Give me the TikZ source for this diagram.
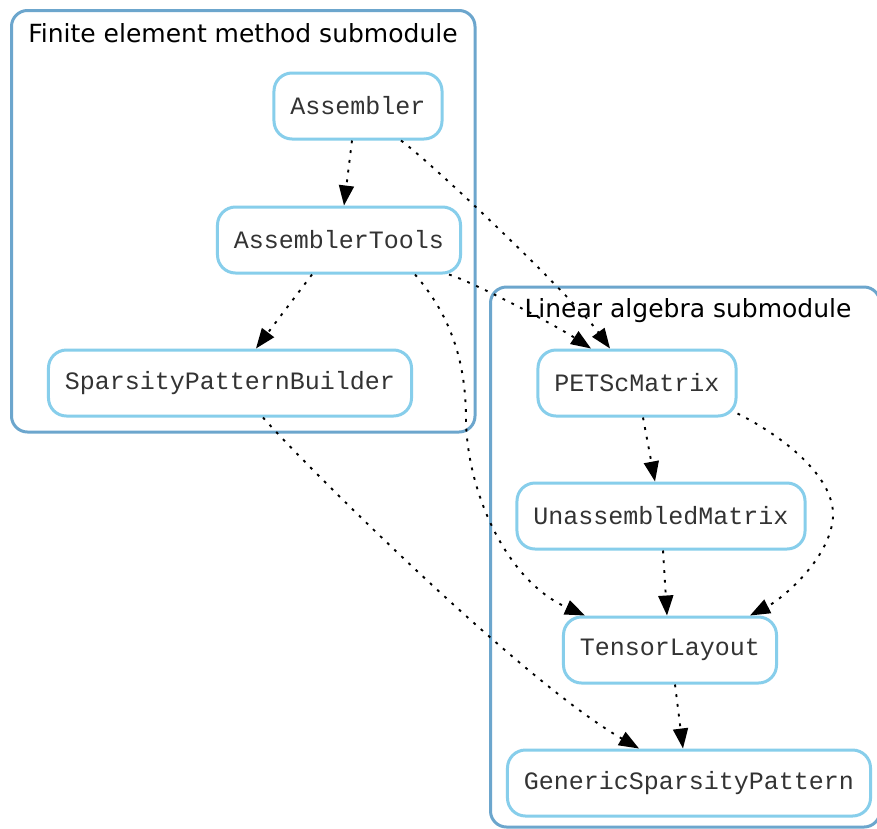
\documentclass[tikz,border=0pt]{standalone}
\usepackage{fontspec}
\setmainfont{DejaVu Sans}
\newfontfamily\monof{Liberation Mono}
\usetikzlibrary{arrows.meta}
\definecolor{clusterc}{HTML}{6CA6CD}
\definecolor{nodec}{HTML}{87CEEB}
\tikzset{
  cls/.style={draw=clusterc, line width=3pt, rounded corners=16pt},
  cltitle/.style={font=\fontsize{25}{30}\selectfont, text=black, inner sep=0pt},
  box/.style={draw=nodec, line width=3pt, rounded corners=18pt, fill=white,
    minimum height=66pt, inner xsep=16.5pt, inner ysep=0pt,
    font=\monof\fontsize{25}{30}\selectfont, text=black!80},
  dep/.style={line width=1.9pt, dash pattern=on 2.8pt off 7pt,
    -{Triangle[length=20pt,width=15pt,sep=0pt]}, shorten >=0pt}
}
\begin{document}
\begin{tikzpicture}[x=1pt,y=-1pt]
\clip (0,0) rectangle (877,828);
\useasboundingbox (0,0) rectangle (877,828);
\fill[white] (0,0) rectangle (877,828);
% clusters
\draw[cls] (11.5,10.5) rectangle (475,432);
\draw[cls] (490.5,287) rectangle (880,827);
\node[cltitle] (t1) at (243,33) {Finite element method submodule};
\node[cltitle] (t2) at (688,311) {Linear algebra submodule};
% nodes
\node[box] (A)   at (358,106) {Assembler};
\node[box] (AT)  at (339,240) {AssemblerTools};
\node[box] (SPB) at (230,383) {SparsityPatternBuilder};
\node[box] (P)   at (637,383) {PETScMatrix};
\node[box] (UM)  at (661,516) {UnassembledMatrix};
\node[box] (TL)  at (670,650) {TensorLayout};
\node[box] (GSP) at (689,783) {GenericSparsityPattern};
% edges
\draw[dep] ([xshift=-6pt]A.south) -- ([xshift=5pt]AT.north);
\draw[dep] ([xshift=43pt]A.south) .. controls (440,170) and (575,300) .. ([xshift=-27pt]P.north);
\draw[dep] ([xshift=-27pt]AT.south) -- ([xshift=26pt]SPB.north);
\draw[dep] ([xshift=-13pt]AT.south east) .. controls (475,283) and (555,325) .. ([xshift=-46pt]P.north);
\draw[dep] ([xshift=76pt]AT.south) .. controls (450,315) and (466,360) .. (466,420)
   .. controls (467,490) and (505,580) .. ([xshift=-85pt]TL.north);
\draw[dep] ([xshift=33pt]SPB.south) .. controls (300,460) and (520,680) .. ([xshift=-50pt]GSP.north);
\draw[dep] ([xshift=6pt]P.south) -- ([xshift=-6pt]UM.north);
\draw[dep] ([yshift=4pt]P.south east) .. controls (790,440) and (835,480) .. (833,517)
   .. controls (830,560) and (780,600) .. ([xshift=80pt]TL.north);
\draw[dep] ([xshift=2pt]UM.south) -- ([xshift=-3pt]TL.north);
\draw[dep] ([xshift=5pt]TL.south) -- ([xshift=-6pt]GSP.north);
\end{tikzpicture}
\end{document}
